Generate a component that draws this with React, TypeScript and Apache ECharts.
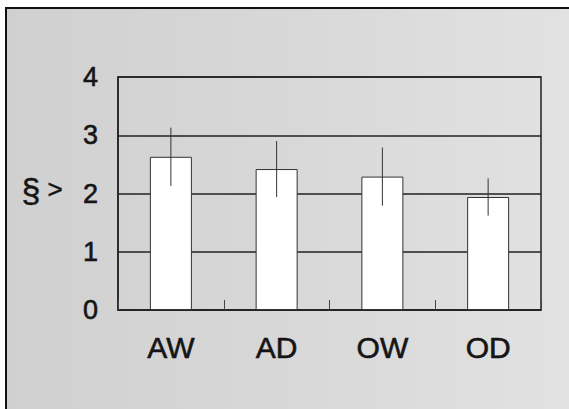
import React, { useEffect, useRef } from "react";
import * as echarts from "echarts";

const categories = ["AW", "AD", "OW", "OD"];
const means = [2.63, 2.42, 2.29, 1.94];
const errors = [0.5, 0.48, 0.5, 0.32];
const yTicks = [0, 1, 2, 3, 4];
const yAxisTitle = ["§", ">"];

const FONT = "'Liberation Sans', Arial, Helvetica, sans-serif";
const INK = "#151515";

export default function App() {
  const ref = useRef<HTMLDivElement>(null);
  useEffect(() => {
    if (!ref.current) return;
    const chart = echarts.init(ref.current, null, { renderer: "svg" });
    const errData = means.map((m, i) => [i, m - errors[i], m + errors[i]]);
    chart.setOption({
      animation: false,
      backgroundColor: "#ffffff",
      textStyle: { fontFamily: FONT },
      graphic: [
        {
          type: "rect",
          z: -10,
          silent: true,
          shape: { x: 6, y: 8, width: 570, height: 410 },
          style: {
            fill: {
              type: "linear",
              x: 0, y: 0, x2: 1, y2: 0,
              colorStops: [
                { offset: 0, color: "#d0d0d0" },
                { offset: 0.5, color: "#d8d8d8" },
                { offset: 1, color: "#e2e2e2" },
              ],
            },
          },
        },
        {
          type: "line",
          z: -5,
          silent: true,
          shape: { x1: 5, y1: 8, x2: 569, y2: 8 },
          style: { stroke: "#111", lineWidth: 2 },
        },
        {
          type: "line",
          z: -5,
          silent: true,
          shape: { x1: 6, y1: 8, x2: 6, y2: 409 },
          style: { stroke: "#111", lineWidth: 2 },
        },
        {
          type: "text",
          x: 31,
          y: 190,
          style: {
            text: yAxisTitle[0],
            font: `34px ${FONT}`,
            fill: INK,
            stroke: INK,
            lineWidth: 0.5,
            verticalAlign: "middle",
            align: "center",
          },
        },
        {
          type: "text",
          x: 55,
          y: 189,
          style: {
            text: yAxisTitle[1],
            font: `26px ${FONT}`,
            fill: INK,
            stroke: INK,
            lineWidth: 0.5,
            verticalAlign: "middle",
            align: "center",
          },
        },
      ],
      grid: {
        left: 118,
        right: 28,
        top: 77,
        bottom: 99,
        show: true,
        backgroundColor: "transparent",
        borderColor: "#222",
        borderWidth: 1.5,
      },
      xAxis: {
        type: "category",
        data: categories,
        boundaryGap: true,
        axisLine: { show: true, lineStyle: { color: "#222", width: 1.5 } },
        axisTick: {
          show: true,
          inside: true,
          length: 10,
          alignWithLabel: false,
          lineStyle: { color: "#444", width: 1 },
        },
        axisLabel: {
          fontSize: 30,
          color: INK,
          margin: 22,
          fontFamily: FONT,
          textBorderColor: INK,
          textBorderWidth: 0.6,
        },
      },
      yAxis: {
        type: "value",
        min: yTicks[0],
        max: yTicks[yTicks.length - 1],
        interval: 1,
        axisLine: { show: true, lineStyle: { color: "#222", width: 1.5 } },
        axisTick: { show: false },
        axisLabel: {
          fontSize: 27,
          color: INK,
          margin: 20,
          fontFamily: FONT,
          textBorderColor: INK,
          textBorderWidth: 0.6,
        },
        splitLine: { show: true, lineStyle: { color: "#222", width: 1.5 } },
      },
      series: [
        {
          type: "bar",
          data: means,
          barWidth: 42,
          itemStyle: { color: "#ffffff", borderColor: "#333", borderWidth: 1 },
          z: 2,
        },
        {
          type: "custom",
          data: errData,
          z: 3,
          renderItem: (params: any, api: any) => {
            const i = api.value(0);
            const lo = api.coord([i, api.value(1)]);
            const hi = api.coord([i, api.value(2)]);
            return {
              type: "line",
              shape: { x1: lo[0], y1: lo[1], x2: hi[0], y2: hi[1] },
              style: { stroke: "#333", lineWidth: 1 },
            };
          },
        },
      ],
    });
    return () => chart.dispose();
  }, []);
  return (
    <div
      ref={ref}
      style={{ position: "fixed", left: 0, top: 0, width: 569, height: 409 }}
    />
  );
}
